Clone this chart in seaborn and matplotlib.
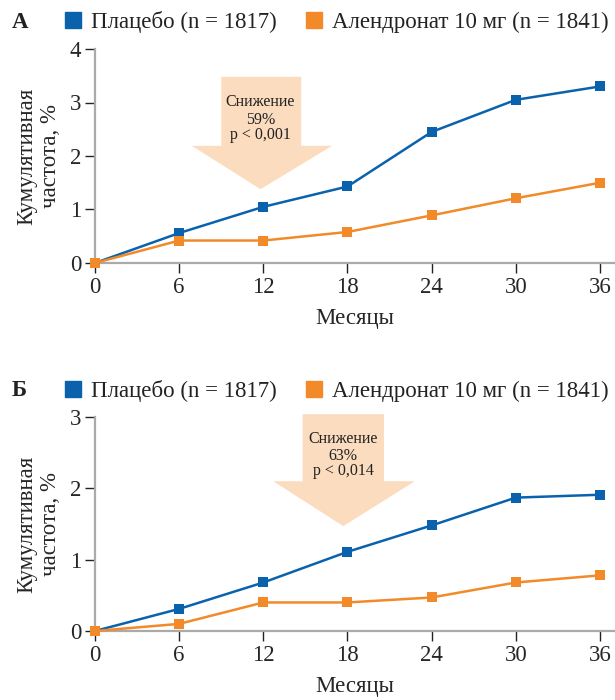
import matplotlib
matplotlib.use("Agg")
import matplotlib.pyplot as plt
import seaborn as sns
import pandas as pd
from matplotlib.lines import Line2D
from matplotlib.patches import Polygon


# Data
months = [0, 6, 12, 18, 24, 30, 36]
a_placebo = [0, 0.56, 1.05, 1.43, 2.45, 3.05, 3.30]
a_alendronate = [0, 0.42, 0.42, 0.58, 0.89, 1.21, 1.50]
b_placebo = [0, 0.31, 0.68, 1.11, 1.48, 1.87, 1.91]
b_alendronate = [0, 0.10, 0.40, 0.40, 0.47, 0.68, 0.78]

labels = ["Плацебо (n = 1817)", "Алендронат 10 мг (n = 1841)"]
colors = ["#0a62ad", "#f28a2a"]
arrow_color = "#fcdcbf"

sns.set_style("ticks")
plt.rcParams['font.family'] = ['Liberation Serif', 'DejaVu Serif']
plt.rcParams['text.color'] = '#222222'

FS = 16.5


def long_frame(placebo, alendronate):
    rows = []
    for name, vals in zip(labels, [placebo, alendronate]):
        for m, v in zip(months, vals):
            rows.append({"month": m, "value": v, "group": name})
    return pd.DataFrame(rows)


def draw_arrow(ax, box_x, box_top, head_x, head_top, tip, text_lines, text_y):
    pts = [(box_x[0], box_top), (box_x[1], box_top), (box_x[1], head_top),
           (head_x[1], head_top), (tip[0], tip[1]), (head_x[0], head_top),
           (box_x[0], head_top)]
    ax.add_patch(Polygon(pts, closed=True, facecolor=arrow_color,
                         edgecolor="none", clip_on=False, zorder=1))
    for line, y in zip(text_lines, text_y):
        ax.text(tip[0], y, line, ha="center", va="center", fontsize=11.5,
                zorder=2)


def panel(fig, rect, placebo, alendronate, ymax, letter, legend_y):
    ax = fig.add_axes(rect)
    df = long_frame(placebo, alendronate)
    sns.lineplot(data=df, x="month", y="value", hue="group", palette=colors,
                 marker="s", markersize=7, markeredgewidth=0, linewidth=1.8,
                 legend=False, ax=ax, clip_on=False, zorder=3)
    ax.set_xlim(0, 37)
    ax.set_ylim(0, ymax)
    ax.set_xticks(months)
    ax.set_yticks(range(ymax + 1))
    ax.tick_params(axis="both", labelsize=FS, length=7, width=1,
                   color="#222222", pad=3)
    for side in ["top", "right"]:
        ax.spines[side].set_visible(False)
    for side in ["left", "bottom"]:
        ax.spines[side].set_color("#aaaaaa")
        ax.spines[side].set_linewidth(1.6)
    ax.set_xlabel("Месяцы", fontsize=FS, labelpad=7)
    ax.set_ylabel("Кумулятивная\nчастота, %", fontsize=FS, labelpad=6)

    fig.text(12 / 615, legend_y, letter, fontsize=FS, fontweight="bold",
             va="center")
    handles = [Line2D([], [], linestyle="none", marker="s", markersize=12,
                      color=c) for c in colors]
    fig.legend(handles, labels, loc="center left",
               bbox_to_anchor=(62 / 615, legend_y), ncol=2, frameon=False,
               fontsize=FS, handlelength=1.0, handletextpad=0.28,
               columnspacing=1.1, borderaxespad=0, borderpad=0)
    return ax


fig = plt.figure(figsize=(6.15, 7), dpi=100)

ax_a = panel(fig, [95 / 615, 437 / 700, 519 / 615, 214 / 700],
             a_placebo, a_alendronate, 4, "А", 1 - 22 / 700)
draw_arrow(ax_a, (9.0, 14.7), 3.48, (6.9, 16.9), 2.19, (11.8, 1.38),
           ["Снижение", "59%", "p < 0,001"], [3.00, 2.68, 2.39])

ax_b = panel(fig, [95 / 615, 69 / 700, 519 / 615, 214 / 700],
             b_placebo, b_alendronate, 3, "Б", 1 - 391 / 700)
draw_arrow(ax_b, (14.8, 20.6), 3.04, (12.7, 22.8), 2.10, (17.7, 1.47),
           ["Снижение", "63%", "p < 0,014"], [2.69, 2.46, 2.24])

fig.savefig("out.png", dpi=100)
